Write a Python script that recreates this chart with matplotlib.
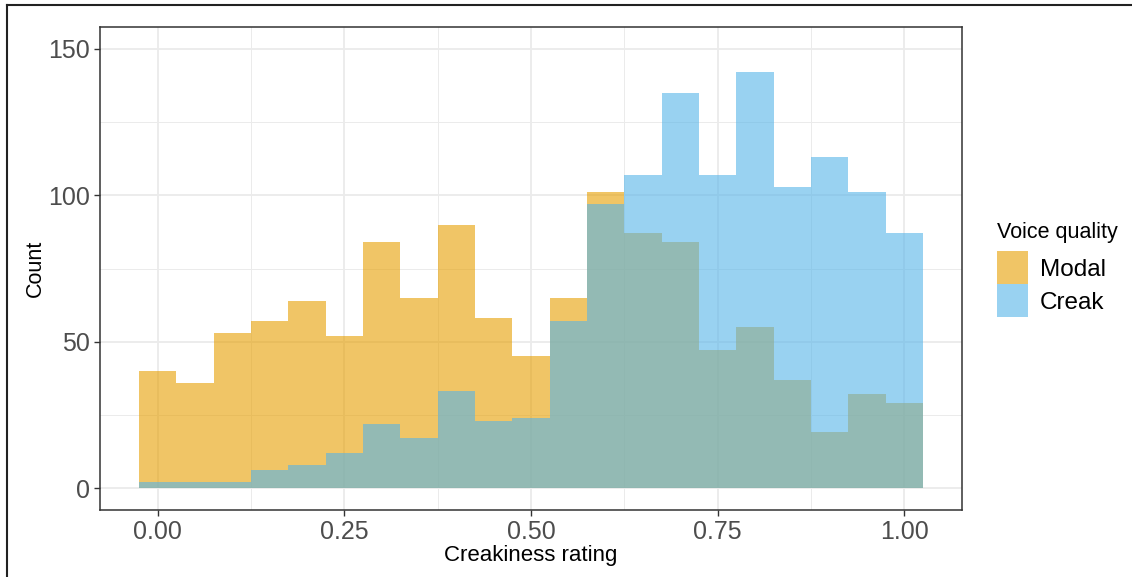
import numpy as np
import matplotlib
matplotlib.use('Agg')
import matplotlib.pyplot as plt
from matplotlib.patches import Patch
from matplotlib.lines import Line2D
from matplotlib.legend_handler import HandlerPatch
from matplotlib.ticker import MultipleLocator

# Histogram counts per bin (bin width 0.05, centred on 0.00 ... 1.00)
bin_centers = np.round(np.arange(0, 1.0001, 0.05), 2)
modal_counts = [40, 36, 53, 57, 64, 52, 84, 65, 90, 58, 45,
                65, 101, 87, 84, 47, 55, 37, 19, 32, 29]
creak_counts = [2, 2, 2, 6, 8, 12, 22, 17, 33, 23, 24,
                57, 97, 107, 135, 107, 142, 103, 113, 101, 87]
series_labels = ['Modal', 'Creak']
series_colors = ['#E69F00', '#56B4E9']
x_ticks = [0.0, 0.25, 0.5, 0.75, 1.0]
x_tick_labels = ['0.00', '0.25', '0.50', '0.75', '1.00']
y_ticks = [0, 50, 100, 150]

plt.rcParams['font.family'] = ['Liberation Sans', 'DejaVu Sans']

W, H = 1132, 577
fig = plt.figure(figsize=(W / 100, H / 100), dpi=100)
ax = fig.add_axes([100 / W, (H - 510) / H, 862 / W, 483 / H])

bin_width = 0.05
for counts, color, label in zip([modal_counts, creak_counts], series_colors, series_labels):
    ax.bar(bin_centers, counts, width=bin_width, color=color, alpha=0.6,
           linewidth=0, label=label, zorder=2)

ax.set_xlim(-0.0775, 1.0775)
ax.set_ylim(-7.5, 157.5)

# theme_bw-style grid
ax.set_xticks(x_ticks)
ax.set_xticklabels(x_tick_labels)
ax.set_yticks(y_ticks)
ax.xaxis.set_minor_locator(MultipleLocator(0.125))
ax.yaxis.set_minor_locator(MultipleLocator(25))
ax.grid(which='major', color='#EBEBEB', linewidth=1.3, zorder=0)
ax.grid(which='minor', color='#EBEBEB', linewidth=0.7, zorder=0)
ax.set_axisbelow(True)
ax.tick_params(which='minor', length=0)
ax.tick_params(which='major', length=4, width=1, color='#333333',
               labelsize=18, labelcolor='#4D4D4D', pad=3)
for sp in ax.spines.values():
    sp.set_color('#333333')
    sp.set_linewidth(1.1)

ax.set_xlabel('Creakiness rating', fontsize=16, labelpad=1)
ax.set_ylabel('Count', fontsize=15.5, labelpad=1.5)

# legend keys touch each other, as in ggplot
handles = [Patch(facecolor=c, alpha=0.6, linewidth=0) for c in series_colors]
leg = fig.legend(handles, series_labels, title='Voice quality',
                 loc='upper left', bbox_to_anchor=(987 / W, 1 - 212 / H),
                 frameon=False, fontsize=17.5, title_fontsize=15.5,
                 handlelength=1.28, handleheight=1.72, labelspacing=0.0,
                 handletextpad=0.5, borderaxespad=0, alignment='left',
                 handler_map={Patch: HandlerPatch(xpad=0, ypad=0)})
leg._legend_box.sep = 6

# outer frame along the top and left edges
fig.add_artist(Line2D([7 / W, 1], [1 - 5 / H, 1 - 5 / H], color='#222222', linewidth=1.5))
fig.add_artist(Line2D([7 / W, 7 / W], [0, 1 - 5 / H], color='#222222', linewidth=1.5))

fig.savefig('out.png', dpi=100)
